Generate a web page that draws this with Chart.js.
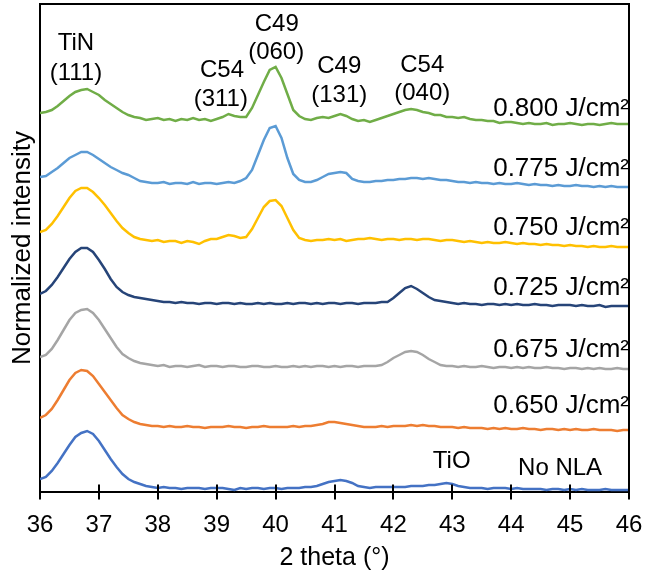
<!DOCTYPE html>
<html><head><meta charset="utf-8">
<style>html,body{margin:0;padding:0;background:#fff;}canvas{display:block;}</style>
<script src="https://cdn.jsdelivr.net/npm/chart.js@4/dist/chart.umd.min.js"></script>
</head><body>
<canvas id="c" width="646" height="574"></canvas>
<script>
// 2 theta grid (degrees)
const twoTheta = [36.0,36.1,36.2,36.3,36.4,36.5,36.6,36.7,36.8,36.9,
37.0,37.1,37.2,37.3,37.4,37.5,37.6,37.7,37.8,37.9,
38.0,38.1,38.2,38.3,38.4,38.5,38.6,38.7,38.8,38.9,
39.0,39.1,39.2,39.3,39.4,39.5,39.6,39.7,39.8,39.9,
40.0,40.1,40.2,40.3,40.4,40.5,40.6,40.7,40.8,40.9,
41.0,41.1,41.2,41.3,41.4,41.5,41.6,41.7,41.8,41.9,
42.0,42.1,42.2,42.3,42.4,42.5,42.6,42.7,42.8,42.9,
43.0,43.1,43.2,43.3,43.4,43.5,43.6,43.7,43.8,43.9,
44.0,44.1,44.2,44.3,44.4,44.5,44.6,44.7,44.8,44.9,
45.0,45.1,45.2,45.3,45.4,45.5,45.6,45.7,45.8,45.9,
46.0];
const xTicks = [36,37,38,39,40,41,42,43,44,45,46];

// offset normalized intensities
const int800 = [37.8,37.9,38.1,38.5,39.0,39.5,39.9,40.1,40.2,39.9,
39.6,39.1,38.7,38.3,37.9,37.6,37.4,37.3,37.1,37.2,
37.3,37.1,37.2,37.0,37.2,37.1,37.3,37.1,37.2,37.0,
37.2,37.4,37.7,37.5,37.4,37.4,38.3,39.6,40.9,42.1,
42.4,41.3,39.7,38.1,37.5,37.2,37.1,37.3,37.4,37.3,
37.5,37.7,37.5,37.2,37.0,37.1,36.9,37.1,37.3,37.5,
37.7,37.9,38.1,38.2,38.1,37.9,37.8,37.6,37.6,37.4,
37.4,37.3,37.4,37.2,37.1,37.1,37.0,37.0,36.8,36.9,
36.9,36.8,36.7,36.8,36.7,36.7,36.8,36.6,36.7,36.7,
36.8,36.7,36.6,36.7,36.7,36.6,36.7,36.8,36.7,36.7,
36.7];
const int775 = [31.4,31.5,31.9,32.3,32.8,33.3,33.6,33.9,33.9,33.6,
33.2,32.8,32.4,32.1,31.8,31.6,31.3,31.0,30.9,30.8,
30.8,30.9,30.7,30.8,30.8,30.7,30.9,30.7,30.8,30.8,
30.7,30.8,30.9,30.8,31.0,31.3,32.1,33.6,35.1,36.3,
36.5,35.3,33.3,31.7,31.1,30.9,30.9,31.1,31.4,31.7,
31.8,31.9,31.8,31.2,31.0,30.9,30.9,31.0,31.0,31.1,
31.1,31.2,31.2,31.3,31.3,31.2,31.3,31.2,31.1,31.1,
31.0,30.9,30.9,30.8,30.9,30.8,30.8,30.7,30.8,30.7,
30.7,30.8,30.7,30.6,30.7,30.6,30.6,30.5,30.6,30.5,
30.5,30.6,30.5,30.5,30.4,30.5,30.4,30.5,30.4,30.4,
30.4];
const int750 = [25.9,26.1,26.7,27.5,28.4,29.3,30.0,30.3,30.3,29.9,
29.3,28.6,27.8,27.0,26.3,25.8,25.4,25.2,25.1,25.0,
25.1,24.9,25.0,25.0,24.8,25.0,24.9,24.7,25.0,25.2,
25.2,25.4,25.6,25.5,25.3,25.4,26.2,27.3,28.4,29.0,
29.1,28.5,27.3,26.1,25.3,25.1,25.0,25.1,25.1,25.2,
25.1,25.2,25.0,25.1,25.2,25.2,25.3,25.2,25.1,25.2,
25.2,25.1,25.2,25.2,25.1,25.2,25.2,25.1,25.0,25.1,
25.1,25.0,24.9,25.0,24.9,24.8,24.9,24.8,24.8,24.9,
24.8,24.7,24.8,24.7,24.7,24.6,24.7,24.6,24.6,24.5,
24.6,24.5,24.5,24.4,24.5,24.4,24.4,24.5,24.4,24.4,
24.4];
const int725 = [19.7,20.0,20.6,21.4,22.3,23.2,23.9,24.3,24.3,23.9,
23.1,22.2,21.2,20.4,19.9,19.6,19.4,19.3,19.2,19.1,
19.0,18.9,18.9,18.8,18.9,18.8,18.8,18.7,18.8,18.8,
18.7,18.8,18.8,18.7,18.8,18.7,18.7,18.8,18.7,18.8,
18.7,18.7,18.8,18.7,18.8,18.8,18.7,18.8,18.7,18.8,
18.8,18.7,18.8,18.8,18.7,18.8,18.8,18.8,18.9,18.9,
19.3,19.8,20.3,20.5,20.2,19.8,19.4,19.1,19.0,18.9,
18.8,18.7,18.8,18.7,18.7,18.6,18.7,18.7,18.6,18.7,
18.6,18.7,18.6,18.6,18.7,18.6,18.6,18.5,18.6,18.6,
18.6,18.5,18.6,18.5,18.5,18.6,18.4,18.5,18.5,18.5,
18.5];
const int675 = [13.4,13.6,14.2,15.1,16.1,17.1,17.8,18.1,18.2,17.8,
17.1,16.2,15.3,14.4,13.7,13.3,13.0,12.8,12.7,12.6,
12.5,12.6,12.4,12.5,12.5,12.4,12.5,12.6,12.4,12.5,
12.5,12.4,12.5,12.5,12.4,12.4,12.5,12.5,12.4,12.4,
12.5,12.4,12.4,12.5,12.4,12.5,12.4,12.5,12.5,12.4,
12.5,12.4,12.5,12.5,12.4,12.5,12.5,12.5,12.6,12.9,
13.3,13.6,13.9,14.0,13.9,13.6,13.2,12.9,12.6,12.5,
12.5,12.4,12.5,12.4,12.4,12.5,12.4,12.3,12.4,12.4,
12.3,12.4,12.3,12.4,12.3,12.3,12.4,12.3,12.3,12.2,
12.3,12.3,12.2,12.3,12.2,12.3,12.2,12.2,12.3,12.2,
12.2];
const int650 = [7.3,7.6,8.2,9.1,10.1,11.1,11.8,12.1,12.0,11.5,
10.7,9.9,9.1,8.3,7.6,7.2,6.9,6.7,6.6,6.5,
6.5,6.4,6.5,6.4,6.4,6.5,6.4,6.4,6.3,6.4,
6.4,6.4,6.5,6.4,6.4,6.3,6.4,6.4,6.5,6.4,
6.4,6.4,6.4,6.5,6.4,6.5,6.5,6.6,6.7,6.9,
6.9,6.8,6.7,6.6,6.5,6.4,6.4,6.4,6.5,6.4,
6.5,6.5,6.5,6.6,6.5,6.6,6.5,6.5,6.4,6.4,
6.4,6.3,6.4,6.3,6.3,6.3,6.2,6.3,6.2,6.3,
6.2,6.2,6.3,6.2,6.2,6.1,6.2,6.2,6.1,6.2,
6.1,6.2,6.1,6.1,6.2,6.1,6.1,6.1,6.0,6.1,
6.1];
const intNoNLA = [1.2,1.4,2.0,2.8,3.7,4.6,5.4,5.8,6.0,5.7,
5.0,4.1,3.2,2.4,1.7,1.2,0.9,0.7,0.5,0.4,
0.3,0.4,0.3,0.3,0.2,0.3,0.3,0.3,0.2,0.3,
0.3,0.3,0.2,0.1,0.3,0.2,0.3,0.3,0.2,0.3,
0.3,0.2,0.3,0.3,0.3,0.4,0.4,0.5,0.7,0.9,
1.0,1.1,1.0,0.8,0.5,0.4,0.3,0.4,0.4,0.4,
0.4,0.4,0.4,0.5,0.5,0.5,0.6,0.6,0.7,0.8,
0.7,0.5,0.4,0.3,0.3,0.3,0.2,0.3,0.3,0.3,
0.2,0.3,0.2,0.2,0.2,0.2,0.1,0.2,0.2,0.1,
0.2,0.1,0.2,0.1,0.1,0.1,0.2,0.1,0.1,0.1,
0.1];

const seriesNames = ['0.800 J/cm²','0.775 J/cm²','0.750 J/cm²','0.725 J/cm²','0.675 J/cm²','0.650 J/cm²','No NLA'];
const seriesValues = [int800,int775,int750,int725,int675,int650,intNoNLA];
const seriesColors = ['#70AD47','#5B9BD5','#FFC000','#264478','#A5A5A5','#ED7D31','#4472C4'];

// annotation texts [text, x (deg), y (intensity units, baseline), align]
const peakLabels = [
  ['TiN',36.61,44.1,'center'],['(111)',36.61,41.1,'center'],
  ['C54',39.09,41.4,'center'],['(311)',39.07,38.5,'center'],
  ['C49',40.02,46.0,'center'],['(060)',40.01,43.2,'center'],
  ['C49',41.08,41.8,'center'],['(131)',41.08,38.9,'center'],
  ['C54',42.49,41.9,'center'],['(040)',42.49,39.1,'center'],
  ['TiO',42.99,2.3,'center'],['No NLA',44.83,1.6,'center']
];
const seriesLabelY = [37.5,31.5,25.6,19.6,13.4,7.8];

const FONT = "'Liberation Sans', Arial, sans-serif";

const annot = {
  id:'annot',
  afterDatasetsDraw(chart){
    const {ctx, scales:{x,y}} = chart;
    ctx.save();
    ctx.fillStyle = '#000';
    ctx.textBaseline = 'alphabetic';
    ctx.font = '24px ' + FONT;
    peakLabels.forEach(([t,xv,yv,al])=>{
      ctx.textAlign = al;
      ctx.fillText(t, x.getPixelForValue(xv), y.getPixelForValue(yv));
    });
    ctx.textAlign = 'right';
    ctx.font = '26px ' + FONT;
    seriesLabelY.forEach((yv,i)=>{
      ctx.fillText(seriesNames[i], x.getPixelForValue(46), y.getPixelForValue(yv));
    });
    ctx.restore();
  },
  afterDraw(chart){
    const {ctx, scales:{x}, chartArea:ca} = chart;
    ctx.save();
    ctx.strokeStyle = '#000';
    ctx.lineWidth = 2;
    ctx.beginPath();
    ctx.moveTo(ca.left, ca.top); ctx.lineTo(ca.right, ca.top); ctx.lineTo(ca.right, ca.bottom);
    ctx.stroke();
    ctx.beginPath();
    xTicks.forEach(v=>{
      const px = Math.round(x.getPixelForValue(v));
      ctx.moveTo(px, ca.bottom-7.5); ctx.lineTo(px, ca.bottom+7.5);
    });
    ctx.stroke();
    ctx.restore();
  }
};

new Chart(document.getElementById('c'), {
  type:'line',
  data:{datasets: seriesValues.map((vals,i)=>({
    label: seriesNames[i],
    data: twoTheta.map((t,j)=>({x:t, y:vals[j]})),
    borderColor: seriesColors[i],
    borderWidth: 2.5,
    pointRadius: 0,
    tension: 0,
    fill: false
  }))},
  options:{
    responsive:false, animation:false, devicePixelRatio:1,
    layout:{padding:{left:0, top:4, right:17, bottom:0}},
    plugins:{legend:{display:false}, tooltip:{enabled:false}},
    scales:{
      x:{type:'linear', min:36, max:46,
        ticks:{stepSize:1, color:'#000', font:{family:FONT, size:24}, padding:11, maxRotation:0, autoSkip:false},
        grid:{display:false},
        border:{display:true, color:'#000', width:2},
        title:{display:true, text:'2 theta (°)', color:'#000', font:{family:FONT, size:25}, padding:{top:0, bottom:1}},
        afterFit:(a)=>{a.height = 82; a.paddingLeft = 0; a.paddingRight = 0;}
      },
      y:{type:'linear', min:-0.1, max:48.7,
        ticks:{display:false},
        grid:{display:false},
        border:{display:true, color:'#000', width:2},
        title:{display:true, text:'Normalized intensity', color:'#000', font:{family:FONT, size:26}, padding:{top:7, bottom:0}},
        afterFit:(a)=>{a.width = 40; a.paddingTop = 0; a.paddingBottom = 0;}
      }
    }
  },
  plugins:[annot]
});
</script>
</body></html>
